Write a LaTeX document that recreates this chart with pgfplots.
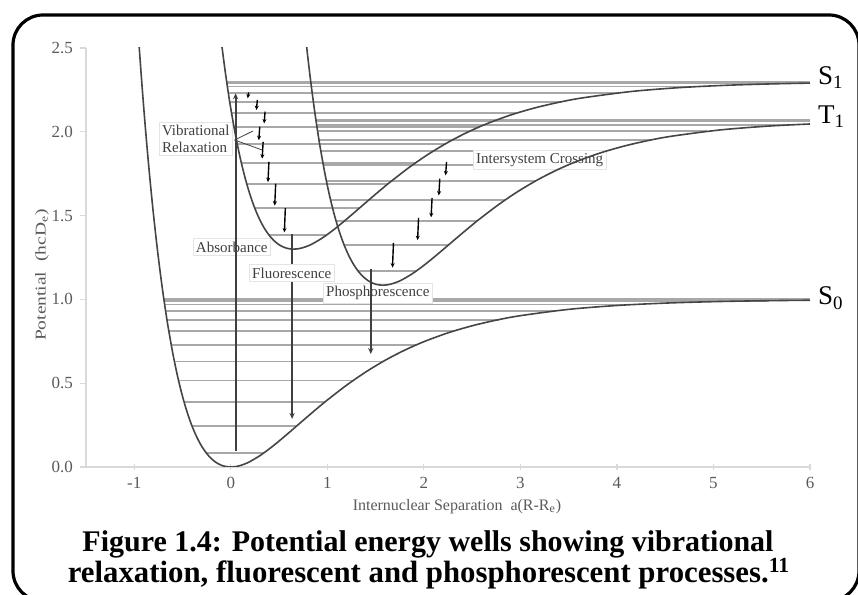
\documentclass[border=0pt]{standalone}
\usepackage{fontspec}
\setmainfont{Liberation Serif}
\usepackage{pgfplots}
\pgfplotsset{compat=1.18}
\usetikzlibrary{arrows.meta}
\definecolor{tickgray}{HTML}{5A5A5A}
\definecolor{axisgray}{HTML}{D9D9D9}
\definecolor{levelgray}{HTML}{A8A8A8}
\definecolor{curvegray}{HTML}{454545}
\definecolor{annot}{HTML}{404040}
\definecolor{boxgray}{HTML}{E4E4E4}
\begin{document}
\begin{tikzpicture}
\useasboundingbox (0,0) rectangle (429pt,297.5pt);
\draw[line width=1.6pt, rounded corners=15pt] (6.5pt,-3pt) rectangle (429.5pt,290pt);
\node[anchor=base, font=\bfseries\fontsize{15}{17}\selectfont] at (214pt,21.5pt) {Figure 1.4: Potential energy wells showing vibrational};
\node[anchor=base, font=\bfseries\fontsize{15.4}{17}\selectfont] at (214.5pt,6pt) {relaxation, fluorescent and phosphorescent processes.\textsuperscript{11}};
\node[anchor=base, font=\fontsize{8}{9}\selectfont, text=tickgray] at (228.5pt,42pt) {Internuclear Separation\ \ a(R-R\textsubscript{e})};
\node[rotate=90, font=\fontsize{7.5}{9}\selectfont, text=tickgray] at (21pt,160pt) {\scalebox{1.3}[1]{Potential\ \ (hcD\textsubscript{e})}};
\begin{axis}[
  at={(43pt,64pt)}, anchor=south west, scale only axis,
  width=362pt, height=209.5pt,
  xmin=-1.5, xmax=6, ymin=0, ymax=2.5,
  axis x line*=bottom, axis y line*=left,
  axis line style={draw=axisgray, line width=0.6pt},
  xtick={-1,0,1,2,3,4,5,6}, ytick={0,0.5,1,1.5,2,2.5},
  yticklabel style={/pgf/number format/.cd, fixed, fixed zerofill, precision=1},
  xtick align=center, ytick align=outside,
  major tick length=3pt,
  tick style={draw=axisgray, line width=0.6pt},
  ticklabel style={font=\fontsize{8.5}{9.5}\selectfont, text=tickgray},
  /pgf/number format/assume math mode=true,
  clip mode=individual,
  unbounded coords=jump,
]
% vibrational levels
\addplot[levelgray, line width=0.9pt] coordinates {
(-0.25593,0.08507) (0.34484,0.08507) (nan,nan)
(-0.40133,0.24386) (0.68087,0.24386) (nan,nan)
(-0.48397,0.38752) (0.97421,0.38752) (nan,nan)
(-0.54138,0.51607) (1.26720,0.51607) (nan,nan)
(-0.58411,0.62949) (1.57697,0.62949) (nan,nan)
(-0.61687,0.72779) (1.91807,0.72779) (nan,nan)
(-0.64213,0.81096) (2.30790,0.81096) (nan,nan)
(-0.66143,0.87902) (2.77355,0.87902) (nan,nan)
(-0.67568,0.93195) (3.36303,0.93195) (nan,nan)
(-0.68550,0.96975) (4.18383,0.96975) (nan,nan)
(-0.69125,0.99244) (5.57539,0.99244) (nan,nan)
(-0.69315,1.0) (6,1.0)
};
\addplot[levelgray, line width=0.9pt] coordinates {
(0.39407,1.38507) (0.99484,1.38507) (nan,nan)
(0.24867,1.54386) (1.33087,1.54386) (nan,nan)
(0.16603,1.68752) (1.62421,1.68752) (nan,nan)
(0.10862,1.81607) (1.91720,1.81607) (nan,nan)
(0.06589,1.92949) (2.22697,1.92949) (nan,nan)
(0.03313,2.02779) (2.56807,2.02779) (nan,nan)
(0.00787,2.11096) (2.95790,2.11096) (nan,nan)
(-0.01143,2.17902) (3.42355,2.17902) (nan,nan)
(-0.02568,2.23195) (4.01303,2.23195) (nan,nan)
(-0.03550,2.26975) (4.83383,2.26975) (nan,nan)
(-0.04125,2.29244) (6,2.29244) (nan,nan)
(-0.04315,2.3) (6,2.3)
};
\addplot[levelgray, line width=0.9pt] coordinates {
(1.31907,1.16879) (1.91984,1.16879) (nan,nan)
(1.17367,1.32520) (2.25587,1.32520) (nan,nan)
(1.09103,1.46671) (2.54921,1.46671) (nan,nan)
(1.03362,1.59333) (2.84220,1.59333) (nan,nan)
(0.99089,1.70505) (3.15197,1.70505) (nan,nan)
(0.95813,1.80187) (3.49307,1.80187) (nan,nan)
(0.93287,1.88380) (3.88290,1.88380) (nan,nan)
(0.91357,1.95083) (4.34855,1.95083) (nan,nan)
(0.89932,2.00297) (4.93803,2.00297) (nan,nan)
(0.88950,2.04020) (5.75883,2.04020) (nan,nan)
(0.88375,2.06255) (6,2.06255) (nan,nan)
(0.88185,2.07) (6,2.07)
};
% labels with white boxes
\node[font=\fontsize{7.5}{8.5}\selectfont, text=annot, fill=white, draw=boxgray, line width=0.3pt, inner sep=1.5pt] at (axis cs:3.20,1.832) {Intersystem Crossing};
\node[font=\fontsize{7.5}{8.5}\selectfont, text=annot, fill=white, draw=boxgray, line width=0.3pt, inner sep=1.5pt, align=left] at (axis cs:-0.363,1.957) {Vibrational\\Relaxation};
\node[font=\fontsize{7.5}{8.5}\selectfont, text=annot, fill=white, draw=boxgray, line width=0.3pt, inner sep=1.5pt] at (axis cs:0.01,1.313) {Absorbance};
\node[font=\fontsize{7.5}{8.5}\selectfont, text=annot, fill=white, draw=boxgray, line width=0.3pt, inner sep=1.5pt] at (axis cs:1.523,1.038) {Phosphorescence};
% potential curves
\addplot[curvegray, line width=0.8pt, smooth] coordinates {
(-0.95,2.51448) (-0.925,2.31606) (-0.9,2.13043) (-0.875,1.95687) (-0.85,1.79466) (-0.825,1.64317)
(-0.8,1.50195) (-0.775,1.37028) (-0.75,1.24769) (-0.725,1.13378) (-0.7,1.02769) (-0.675,0.92935)
(-0.65,0.83822) (-0.6,0.67588) (-0.55,0.53766) (-0.5,0.42084) (-0.45,0.32298) (-0.4,0.24189)
(-0.35,0.17562) (-0.3,0.12240) (-0.25,0.08067) (-0.2,0.04902) (-0.15,0.02619) (-0.1,0.01106)
(-0.05,0.00263) (0,0) (0.05,0.00238) (0.1,0.00906) (0.15,0.01940) (0.2,0.03286) (0.3,0.06718)
(0.4,0.10869) (0.5,0.15482) (0.6,0.20357) (0.7,0.25343) (0.8,0.30324) (0.9,0.35216) (1.0,0.39958)
(1.2,0.48833) (1.4,0.56762) (1.6,0.63697) (1.8,0.69673) (2.0,0.74765) (2.25,0.80031) (2.5,0.84257)
(2.75,0.87623) (3.0,0.90291) (3.5,0.94052) (4.0,0.96370) (4.5,0.97791) (5.0,0.98657) (5.5,0.99184) (6.0,0.99505)
};
\addplot[curvegray, line width=0.8pt, smooth] coordinates {
(-0.1,2.54769) (-0.075,2.43378) (-0.05,2.32769) (-0.025,2.22935) (0,2.13822) (0.05,1.97588)
(0.1,1.83766) (0.15,1.72084) (0.2,1.62298) (0.25,1.54189) (0.3,1.47562) (0.35,1.42240)
(0.4,1.38067) (0.45,1.34902) (0.5,1.32619) (0.55,1.31106) (0.6,1.30263) (0.65,1.3)
(0.7,1.30238) (0.75,1.30906) (0.8,1.31940) (0.85,1.33286) (0.95,1.36718) (1.05,1.40869)
(1.15,1.45482) (1.25,1.50357) (1.35,1.55343) (1.45,1.60324) (1.55,1.65216) (1.65,1.69958)
(1.85,1.78833) (2.05,1.86762) (2.25,1.93697) (2.45,1.99673) (2.65,2.04765) (2.9,2.10031)
(3.15,2.14257) (3.4,2.17623) (3.65,2.20291) (4.15,2.24052) (4.65,2.26370) (5.15,2.27791)
(5.65,2.28657) (6.0,2.29052)
};
\addplot[curvegray, line width=0.8pt, smooth] coordinates {
(0.775,2.56442) (0.8,2.43473) (0.825,2.31397) (0.85,2.20177) (0.875,2.09727) (0.9,2.00041)
(0.925,1.91065) (0.975,1.75074) (1.025,1.61460) (1.075,1.49953) (1.125,1.40314) (1.175,1.32326)
(1.225,1.25799) (1.275,1.20556) (1.325,1.16446) (1.375,1.13328) (1.425,1.11080) (1.475,1.09589)
(1.525,1.08759) (1.575,1.085) (1.625,1.08734) (1.675,1.09392) (1.725,1.10411) (1.775,1.11737)
(1.875,1.15117) (1.975,1.19206) (2.075,1.23750) (2.175,1.28552) (2.275,1.33463) (2.375,1.38369)
(2.475,1.43188) (2.575,1.47859) (2.775,1.56600) (2.975,1.64411) (3.175,1.71242) (3.375,1.77128)
(3.575,1.82144) (3.825,1.87331) (4.075,1.91493) (4.325,1.94809) (4.575,1.97437) (5.075,2.01141)
(5.575,2.03424) (6.0,2.04656)
};
% pointer lines
\addplot[annot, line width=0.4pt] coordinates {(0.23,2.005) (0.041,1.951) (0.321,1.892)};
% big arrows
\addplot[annot, line width=0.9pt, -{Stealth[length=3pt,width=2.6pt]}] coordinates {(0.05,0.097) (0.05,2.23)};
\addplot[annot, line width=0.9pt, -{Stealth[length=3pt,width=2.6pt]}] coordinates {(0.635,1.39) (0.635,0.287)};
\addplot[annot, line width=0.9pt, -{Stealth[length=3pt,width=2.6pt]}] coordinates {(1.45,1.18) (1.45,0.674)};
% relaxation arrows
\addplot[black, line width=0.7pt, -{Stealth[length=2.2pt,width=2pt]}] coordinates {(0.185,2.235) (0.175,2.20)};
\addplot[black, line width=0.7pt, -{Stealth[length=2.2pt,width=2pt]}] coordinates {(0.275,2.19) (0.265,2.13)};
\addplot[black, line width=0.7pt, -{Stealth[length=2.2pt,width=2pt]}] coordinates {(0.355,2.12) (0.345,2.05)};
\addplot[black, line width=0.7pt, -{Stealth[length=2.2pt,width=2pt]}] coordinates {(0.30,2.03) (0.29,1.95)};
\addplot[black, line width=0.7pt, -{Stealth[length=2.2pt,width=2pt]}] coordinates {(0.335,1.94) (0.325,1.84)};
\addplot[black, line width=0.7pt, -{Stealth[length=2.2pt,width=2pt]}] coordinates {(0.395,1.82) (0.385,1.70)};
\addplot[black, line width=0.7pt, -{Stealth[length=2.2pt,width=2pt]}] coordinates {(0.465,1.69) (0.455,1.56)};
\addplot[black, line width=0.7pt, -{Stealth[length=2.2pt,width=2pt]}] coordinates {(0.565,1.545) (0.555,1.40)};
\addplot[black, line width=0.7pt, -{Stealth[length=2.2pt,width=2pt]}] coordinates {(2.235,1.82) (2.225,1.74)};
\addplot[black, line width=0.7pt, -{Stealth[length=2.2pt,width=2pt]}] coordinates {(2.165,1.72) (2.155,1.62)};
\addplot[black, line width=0.7pt, -{Stealth[length=2.2pt,width=2pt]}] coordinates {(2.085,1.605) (2.075,1.49)};
\addplot[black, line width=0.7pt, -{Stealth[length=2.2pt,width=2pt]}] coordinates {(1.945,1.486) (1.935,1.354)};
\addplot[black, line width=0.7pt, -{Stealth[length=2.2pt,width=2pt]}] coordinates {(1.685,1.337) (1.675,1.19)};
\node[font=\fontsize{7.5}{8.5}\selectfont, text=annot, fill=white, draw=boxgray, line width=0.3pt, inner sep=1.5pt] at (axis cs:0.632,1.158) {Fluorescence};
% state labels
\node[anchor=base west, inner sep=0pt, font=\fontsize{13.5}{15}\selectfont] at (axis cs:6.08,2.284) {S\textsubscript{1}};
\node[anchor=base west, inner sep=0pt, font=\fontsize{13.5}{15}\selectfont] at (axis cs:6.08,2.052) {T\textsubscript{1}};
\node[anchor=base west, inner sep=0pt, font=\fontsize{13.5}{15}\selectfont] at (axis cs:6.08,0.967) {S\textsubscript{0}};
\end{axis}
\end{tikzpicture}
\end{document}
